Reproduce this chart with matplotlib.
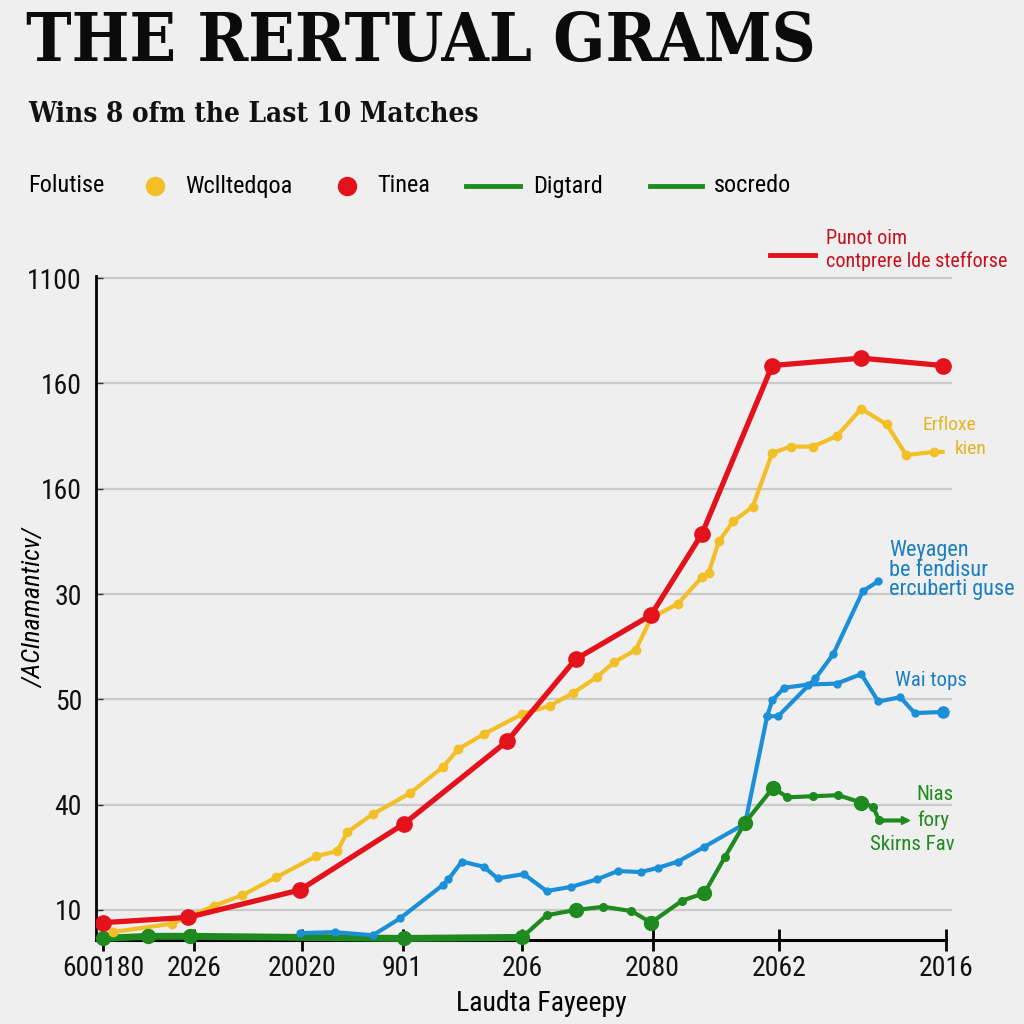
import matplotlib
matplotlib.use("Agg")
import matplotlib.pyplot as plt
from matplotlib.lines import Line2D
from matplotlib import font_manager as fm

# ---------------- data ----------------
x_tick_pos = [0.6, 11.3, 24.1, 35.9, 50.0, 65.4, 80.3, 100.0]
x_tick_labels = ["600180", "2026", "20020", "901", "206", "2080", "2062", "2016"]
y_tick_pos = [1, 2, 3, 4, 5, 6, 7]
y_tick_labels = ["10", "40", "50", "30", "160", "160", "1100"]

red_x = [0.6, 10.6, 23.8, 36.1, 48.2, 56.3, 65.2, 71.2, 79.5, 90.0, 99.6]
red_y = [0.88, 0.93, 1.19, 1.82, 2.60, 3.38, 3.80, 4.57, 6.17, 6.24, 6.17]

yellow_x = [1.7, 8.7, 13.7, 17.0, 21.0, 25.7, 28.2, 29.4, 32.4, 36.8, 40.7, 42.5,
            45.5, 50.0, 53.3, 56.0, 58.8, 60.8, 63.4, 65.2, 68.4, 71.2, 72.0, 73.2,
            74.9, 77.2, 79.5, 81.7, 84.3, 87.1, 90.0, 93.0, 95.3, 98.6]
yellow_y = [0.79, 0.87, 1.04, 1.14, 1.31, 1.51, 1.56, 1.74, 1.91, 2.11, 2.36, 2.53,
            2.67, 2.86, 2.94, 3.06, 3.21, 3.35, 3.47, 3.77, 3.91, 4.16, 4.20, 4.50,
            4.69, 4.83, 5.34, 5.40, 5.40, 5.50, 5.76, 5.61, 5.32, 5.35]

blue_x = [23.8, 27.9, 32.4, 35.6, 40.7, 41.3, 42.9, 45.5, 47.1, 50.2, 52.9, 55.8,
          58.8, 61.3, 64.0, 66.0, 68.4, 71.5, 76.3, 78.9, 80.2, 84.6, 86.7, 90.2, 92.0]
blue_y = [0.78, 0.79, 0.76, 0.92, 1.24, 1.29, 1.46, 1.41, 1.30, 1.34, 1.18, 1.22,
          1.29, 1.37, 1.36, 1.40, 1.46, 1.60, 1.82, 2.84, 2.84, 3.20, 3.43, 4.03, 4.12]

blue2_x = [78.9, 79.5, 80.9, 83.7, 87.1, 90.0, 92.0, 94.6, 96.3, 99.6]
blue2_y = [2.84, 2.99, 3.11, 3.14, 3.15, 3.24, 2.98, 3.02, 2.87, 2.88]

green_x = [0.6, 5.9, 10.8, 36.1, 50.0, 52.9, 56.3, 59.6, 62.9, 65.2, 68.9, 71.5,
           73.9, 76.3, 79.6, 81.3, 84.3, 87.3, 90.0, 91.4, 92.1, 95.2]
green_y = [0.73, 0.75, 0.75, 0.73, 0.74, 0.95, 1.00, 1.03, 0.99, 0.88, 1.09, 1.16,
           1.50, 1.83, 2.16, 2.07, 2.08, 2.09, 2.02, 1.98, 1.85, 1.85]

# style helpers (indices of the larger green dots)
green_big = [0, 1, 2, 3, 4, 6, 9, 11, 13, 14, 18]

legend_title = "Folutise"
legend_labels = ["Wclltedqoa", "Tinea", "Digtard", "socredo"]

# ---------------- fonts ----------------
_names = {f.name for f in fm.fontManager.ttflist}
NARROW_STRETCH = "normal"
NARROW = ["DejaVu Sans"]
for cand in ["Liberation Sans Narrow", "Roboto Condensed", "Open Sans Condensed",
             "DejaVu Sans Condensed"]:
    if cand in _names:
        NARROW = [cand, "DejaVu Sans"]
        break
else:
    if any(f.name == "DejaVu Sans" and f.stretch == "condensed" for f in fm.fontManager.ttflist):
        NARROW_STRETCH = "condensed"
    else:
        for cand in ["Roboto", "Open Sans", "Lato", "Noto Sans"]:
            if any(f.name == cand and f.stretch in ("condensed", "semi-condensed", 87.5, 75)
                   for f in fm.fontManager.ttflist):
                NARROW = [cand, "DejaVu Sans"]
                NARROW_STRETCH = "condensed"
                break
        else:
            NARROW = ["Roboto", "DejaVu Sans"] if "Roboto" in _names else ["DejaVu Sans"]
SERIF = ["DejaVu Serif", "DejaVu Sans"]

# ---------------- style ----------------
BG = "#efefef"
RED = "#e3121b"
YEL = "#f2bf26"
BLUE = "#1b8fd8"
GREEN = "#1f8a1f"

plt.rcParams["font.family"] = NARROW
plt.rcParams["font.stretch"] = NARROW_STRETCH

fig = plt.figure(figsize=(10.24, 10.24), dpi=100, facecolor=BG)
ax = fig.add_axes([96 / 1024, 1 - 940 / 1024, (952 - 96) / 1024, (940 - 276) / 1024])
ax.set_facecolor(BG)
ax.set_xlim(-0.25, 100.7)
ax.set_ylim(0.715, 7.02)

for s in ["top", "right"]:
    ax.spines[s].set_visible(False)
ax.spines["left"].set_linewidth(2.0)
ax.spines["bottom"].set_linewidth(2.2)
ax.spines["bottom"].set_bounds(-0.25, 100.0)

ax.set_yticks(y_tick_pos)
ax.set_yticklabels(y_tick_labels, fontsize=20)
ax.set_xticks(x_tick_pos)
ax.set_xticklabels(x_tick_labels, fontsize=20)
ax.tick_params(axis="y", direction="in", length=5, width=1, colors="#333333",
               labelcolor="#111111", pad=10)
ax.tick_params(axis="x", direction="inout", length=16, width=2, pad=3,
               labelcolor="#111111")
ax.grid(axis="y", color="#c9c9c9", linewidth=1.6)
ax.set_axisbelow(True)

ax.set_ylabel("/ACInamanticv/", fontsize=19, fontstyle="italic")
ax.yaxis.set_label_coords(-0.058, 0.5)
ax.set_xlabel("Laudta Fayeepy", fontsize=20)
ax.xaxis.set_label_coords(0.52, -0.076)

# lines
ax.plot(green_x[:5], green_y[:5], color=GREEN, lw=5.0, solid_capstyle="round", clip_on=False, zorder=3)
ax.plot(green_x[4:], green_y[4:], color=GREEN, lw=3.0, clip_on=False, zorder=3)
big = [i for i in green_big]
small = [i for i in range(len(green_x) - 1) if i not in green_big]
ax.plot([green_x[i] for i in big], [green_y[i] for i in big], "o", color=GREEN,
        ms=10, clip_on=False, zorder=4)
ax.plot([green_x[i] for i in small], [green_y[i] for i in small], "o", color=GREEN,
        ms=5.5, zorder=4)
ax.plot(green_x[-1], green_y[-1], ">", color=GREEN, ms=6, zorder=4)

ax.plot(blue_x, blue_y, color=BLUE, lw=3.0, marker="o", ms=5, zorder=3)
ax.plot(blue2_x, blue2_y, color=BLUE, lw=3.0, marker="o", ms=5, zorder=3)
ax.plot(blue2_x[-1], blue2_y[-1], "o", color=BLUE, ms=8, zorder=4)

ax.plot(yellow_x + [99.6], yellow_y + [yellow_y[-1]], color=YEL, lw=3.0, zorder=3)
ax.plot(yellow_x, yellow_y, "o", color=YEL, ms=6, zorder=4)

ax.plot(red_x, red_y, color=RED, lw=3.8, marker="o", ms=11, zorder=5)

# ---------------- titles ----------------
def fx(px):
    return px / 1024


def fy(py):
    return 1 - py / 1024


fig.text(fx(26), fy(42), "THE RERTUAL GRAMS", fontsize=49,
         family=SERIF, fontweight="bold", fontstretch="condensed",
         va="center", ha="left", color="#0b0b0b")
fig.text(fx(28), fy(115), "Wins 8 ofm the Last 10 Matches", fontsize=20,
         family=SERIF, fontweight="bold", fontstretch="condensed",
         va="center", ha="left", color="#111111")

# ---------------- top legend (drawn by hand) ----------------
LEG_Y = 186
LEG_FS = 17.5
fig.text(fx(28), fy(LEG_Y), legend_title, fontsize=LEG_FS, va="center", ha="left")
fig.add_artist(Line2D([fx(155)], [fy(LEG_Y)], ls="none", marker="o", ms=13, color=YEL))
fig.text(fx(185), fy(LEG_Y), legend_labels[0], fontsize=LEG_FS, va="center", ha="left")
fig.add_artist(Line2D([fx(347)], [fy(LEG_Y)], ls="none", marker="o", ms=13, color=RED))
fig.text(fx(377), fy(LEG_Y), legend_labels[1], fontsize=LEG_FS, va="center", ha="left")
fig.add_artist(Line2D([fx(466), fx(520)], [fy(LEG_Y), fy(LEG_Y)], color=GREEN, lw=3.5))
fig.text(fx(533), fy(LEG_Y), legend_labels[2], fontsize=LEG_FS, va="center", ha="left")
fig.add_artist(Line2D([fx(650), fx(702)], [fy(LEG_Y), fy(LEG_Y)], color=GREEN, lw=3.5))
fig.text(fx(714), fy(LEG_Y), legend_labels[3], fontsize=LEG_FS, va="center", ha="left")

# ---------------- annotations ----------------
fig.add_artist(Line2D([fx(770), fx(815)], [fy(255), fy(255)], color=RED, lw=3.5))
fig.text(fx(826), fy(250), "Punot oim\ncontprere lde stefforse",
         fontsize=14.5, color="#c8101e", va="center", ha="left", linespacing=1.2)
fig.text(fx(922), fy(425), "Erfloxe", fontsize=14, color="#e4b423",
         va="center", ha="left")
fig.text(fx(955), fy(449), "kien", fontsize=14, color="#e4b423",
         va="center", ha="left")
fig.text(fx(889), fy(570), "Weyagen\nbe fendisur\nercuberti guse",
         fontsize=16, color="#1a7fc0", va="center", ha="left", linespacing=0.9)
fig.text(fx(895), fy(681), "Wai tops", fontsize=15, color="#1a7fc0",
         va="center", ha="left")
fig.text(fx(935), fy(795), "Nias", fontsize=15, color=GREEN, va="center", ha="center")
fig.text(fx(933), fy(820), "fory", fontsize=15, color=GREEN, va="center", ha="center")
fig.text(fx(912), fy(844), "Skirns Fav", fontsize=15, color=GREEN, va="center", ha="center")

fig.savefig("out.png", dpi=100, facecolor=BG)
